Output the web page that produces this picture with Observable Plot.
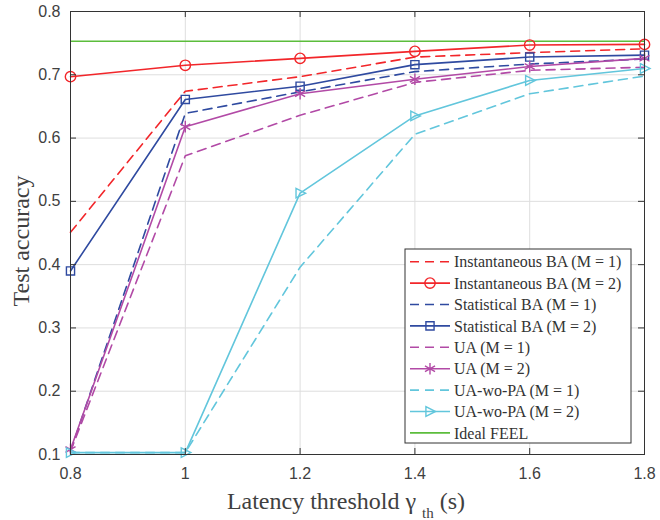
<!DOCTYPE html>
<html>
<head>
<meta charset="utf-8">
<script src="https://cdn.jsdelivr.net/npm/d3@7"></script>
<script src="https://cdn.jsdelivr.net/npm/@observablehq/plot@0.6"></script>
<style>
  body { margin: 0; background: #fff; }
  #chart { width: 660px; height: 520px; }
</style>
</head>
<body>
<div id="chart"></div>
<script>
// ---- data ----
const gammas = [0.8, 1.0, 1.2, 1.4, 1.6, 1.8];
const instBA1 = [0.451, 0.674, 0.697, 0.728, 0.735, 0.741];
const instBA2 = [0.697, 0.715, 0.726, 0.737, 0.747, 0.748];
const statBA1 = [0.105, 0.639, 0.673, 0.705, 0.717, 0.725];
const statBA2 = [0.390, 0.661, 0.682, 0.716, 0.728, 0.731];
const ua1 = [0.105, 0.572, 0.636, 0.688, 0.707, 0.712];
const ua2 = [0.108, 0.618, 0.670, 0.693, 0.713, 0.726];
const uaWo1 = [0.103, 0.103, 0.396, 0.606, 0.670, 0.698];
const uaWo2 = [0.103, 0.103, 0.513, 0.635, 0.691, 0.710];
const idealFEEL = 0.753;
const xTicks = [0.8, 1.0, 1.2, 1.4, 1.6, 1.8];
const yTicks = [0.1, 0.2, 0.3, 0.4, 0.5, 0.6, 0.7, 0.8];
const seriesNames = [
  "Instantaneous BA (M = 1)", "Instantaneous BA (M = 2)",
  "Statistical BA (M = 1)", "Statistical BA (M = 2)",
  "UA (M = 1)", "UA (M = 2)",
  "UA-wo-PA (M = 1)", "UA-wo-PA (M = 2)", "Ideal FEEL"
];

// ---- styles ----
const RED = "#f2262a", BLUE = "#2f4aa0", MAG = "#b24aa6", CYAN = "#62c6dc", GREEN = "#5cbd3c";
const DASH = "9,6";
const W = 660, H = 520, ML = 70, MR = 16, MT = 11, MB = 66;
const FW = W - ML - MR, FH = H - MT - MB, TK = 6;
const triRight = {
  draw(ctx, size) {
    const r = Math.sqrt(size / Math.PI);
    ctx.moveTo(-r * 0.85, -r * 1.0);
    ctx.lineTo(r * 1.15, 0);
    ctx.lineTo(-r * 0.85, r * 1.0);
    ctx.closePath();
  }
};
const series = [
  {name: seriesNames[0], vals: instBA1, color: RED, dash: DASH, symbol: null},
  {name: seriesNames[1], vals: instBA2, color: RED, dash: null, symbol: "circle", r: 5.2},
  {name: seriesNames[2], vals: statBA1, color: BLUE, dash: DASH, symbol: null},
  {name: seriesNames[3], vals: statBA2, color: BLUE, dash: null, symbol: "square", r: 4.6},
  {name: seriesNames[4], vals: ua1, color: MAG, dash: DASH, symbol: null},
  {name: seriesNames[5], vals: ua2, color: MAG, dash: null, symbol: "asterisk", r: 5.5},
  {name: seriesNames[6], vals: uaWo1, color: CYAN, dash: DASH, symbol: null},
  {name: seriesNames[7], vals: uaWo2, color: CYAN, dash: null, symbol: triRight, r: 4.8},
];

const marks = [
  Plot.gridX(xTicks, {stroke: "#dedede", strokeOpacity: 1}),
  Plot.gridY(yTicks, {stroke: "#dedede", strokeOpacity: 1}),
  Plot.ruleY([idealFEEL], {stroke: GREEN, strokeWidth: 1.6}),
];
for (const s of series) {
  const data = gammas.map((g, i) => ({x: g, y: s.vals[i]}));
  marks.push(Plot.line(data, {x: "x", y: "y", stroke: s.color, strokeWidth: 1.6,
    strokeDasharray: s.dash || undefined}));
  if (s.symbol) {
    marks.push(Plot.dot(data, {x: "x", y: "y", stroke: s.color, strokeWidth: 1.4,
      fill: "none", symbol: s.symbol, r: s.r}));
  }
}
const fmt = d => String(+d.toFixed(1));
marks.push(
  Plot.frame({stroke: "#333", strokeWidth: 1}),
  // inward ticks on all four sides
  Plot.tickX(xTicks, {x: d => d, insetTop: FH - TK, stroke: "#333"}),
  Plot.tickX(xTicks, {x: d => d, insetBottom: FH - TK, stroke: "#333"}),
  Plot.tickY(yTicks, {y: d => d, insetRight: FW - TK, stroke: "#333"}),
  Plot.tickY(yTicks, {y: d => d, insetLeft: FW - TK, stroke: "#333"}),
  Plot.axisX(xTicks, {anchor: "bottom", tickSize: 0, tickPadding: 13, tickFormat: fmt, label: null, fontSize: 16, fill: "#404040"}),
  Plot.axisY(yTicks, {anchor: "left", tickSize: 0, tickPadding: 10, tickFormat: d => d.toFixed(1), label: null, fontSize: 16, fill: "#404040"})
);

const chart = Plot.plot({
  width: W, height: H,
  marginLeft: ML, marginRight: MR, marginTop: MT, marginBottom: MB,
  x: {domain: [0.8, 1.8]},
  y: {domain: [0.1, 0.8]},
  style: {fontFamily: "'Liberation Sans', sans-serif", fontSize: "16px", color: "#404040", background: "#fff"},
  marks
});
document.getElementById("chart").appendChild(chart);

// ---- axis titles & legend ----
const svg = d3.select(chart);
const serif = "'Liberation Serif', 'Times New Roman', serif";
const xl = svg.append("text").attr("x", 346).attr("y", 509).attr("text-anchor", "middle")
  .attr("font-family", serif).attr("font-size", 24).attr("fill", "#404040");
xl.append("tspan").text("Latency threshold γ ");
xl.append("tspan").attr("font-size", 15).attr("dy", 9).text("th");
xl.append("tspan").attr("dy", -9).text(" (s)");
svg.append("text").attr("transform", "translate(29,241) rotate(-90)").attr("text-anchor", "middle")
  .attr("font-family", serif).attr("font-size", 24).attr("fill", "#404040").text("Test accuracy");

const lg = svg.append("g").attr("text-anchor", "start");
lg.append("rect").attr("x", 405).attr("y", 249).attr("width", 226).attr("height", 194)
  .attr("fill", "#fff").attr("stroke", "#333").attr("stroke-width", 1);
const legendItems = [...series, {name: seriesNames[8], color: GREEN, dash: null, symbol: null}];
legendItems.forEach((s, i) => {
  const y = 261.7 + i * 21.4;
  lg.append("line").attr("x1", 410).attr("x2", 450).attr("y1", y).attr("y2", y)
    .attr("stroke", s.color).attr("stroke-width", 1.6).attr("stroke-dasharray", s.dash || null);
  if (s.symbol) {
    const type = typeof s.symbol === "string"
      ? {circle: d3.symbolCircle, square: d3.symbolSquare, asterisk: d3.symbolAsterisk}[s.symbol]
      : s.symbol;
    lg.append("path").attr("transform", `translate(430,${y})`)
      .attr("d", d3.symbol(type, Math.PI * s.r * s.r)())
      .attr("fill", "none").attr("stroke", s.color).attr("stroke-width", 1.4);
  }
  lg.append("text").attr("x", 454).attr("y", y).attr("dy", "0.35em").attr("text-anchor", "start")
    .attr("font-family", serif).attr("font-size", 16).attr("fill", "#333").text(s.name);
});
</script>
</body>
</html>
